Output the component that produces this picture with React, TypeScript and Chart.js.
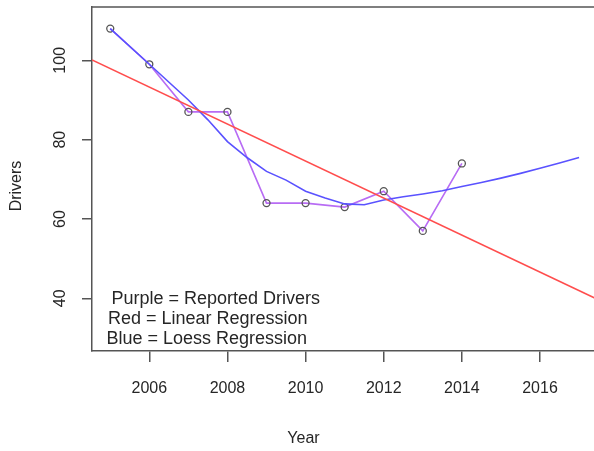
import React, { useEffect, useRef } from "react";
import Chart from "chart.js/auto";

const years = [2005, 2006, 2007, 2008, 2009, 2010, 2011, 2012, 2013, 2014];
const drivers = [108, 99, 87, 87, 64, 64, 63, 67, 57, 74];

const linearX = [2004.533, 2017.4];
const linearY = [100.1, 40.1];

const loessX = [2005, 2006, 2007, 2007.5, 2008, 2008.5, 2009, 2009.5, 2010, 2010.5, 2011, 2011.5, 2012, 2012.5, 2013, 2013.5, 2014, 2014.5, 2015, 2015.5, 2016, 2016.5, 2017];
const loessY = [108, 99, 90, 85, 79.5, 75.5, 72, 69.8, 67, 65.3, 63.8, 63.6, 64.8, 65.6, 66.3, 67.1, 68.2, 69.2, 70.3, 71.5, 72.8, 74.1, 75.5];

const xTicks = [2006, 2008, 2010, 2012, 2014, 2016];
const yTicks = [40, 60, 80, 100];

const legendLines = ["Purple = Reported Drivers", "Red = Linear Regression", "Blue = Loess Regression"];
const xTitle = "Year";
const yTitle = "Drivers";

const FONT = "'Liberation Sans', Arial, sans-serif";

export default function App() {
  const ref = useRef<HTMLCanvasElement | null>(null);

  useEffect(() => {
    if (!ref.current) return;
    const textPlugin = {
      id: "rtext",
      afterDraw(chart: any) {
        const ctx = chart.ctx;
        const xs = chart.scales.x;
        const ys = chart.scales.y;
        const area = chart.chartArea;
        ctx.save();
        ctx.strokeStyle = "#555";
        ctx.lineWidth = 1.5;
        ctx.beginPath();
        ctx.moveTo(area.left, area.top);
        ctx.lineTo(area.right, area.top);
        ctx.stroke();

        ctx.fillStyle = "#262626";
        ctx.textAlign = "center";
        ctx.textBaseline = "middle";
        ctx.font = `16px ${FONT}`;
        xTicks.forEach((v) => {
          ctx.fillText(String(v), xs.getPixelForValue(v), 389);
        });
        yTicks.forEach((v) => {
          ctx.save();
          ctx.translate(60.5, ys.getPixelForValue(v));
          ctx.rotate(-Math.PI / 2);
          ctx.fillText(String(v), 0, 0);
          ctx.restore();
        });
        ctx.fillText(xTitle, 303.5, 439);
        ctx.save();
        ctx.translate(17, 186);
        ctx.rotate(-Math.PI / 2);
        ctx.fillText(yTitle, 0, 0);
        ctx.restore();

        ctx.font = `18px ${FONT}`;
        ctx.textAlign = "left";
        const lx = [111.5, 108, 106.5];
        const ly = [299, 319.3, 339.3];
        legendLines.forEach((t, i) => ctx.fillText(t, lx[i], ly[i]));
        ctx.restore();
      },
    };

    const chart = new Chart(ref.current, {
      type: "scatter",
      data: {
        datasets: [
          {
            label: "Reported",
            data: years.map((x, i) => ({ x, y: drivers[i] })),
            showLine: true,
            borderColor: "#b86cf4",
            borderWidth: 1.6,
            pointRadius: 3.5,
            pointBorderColor: "#555",
            pointBackgroundColor: "rgba(0,0,0,0)",
            pointBorderWidth: 1.3,
            order: 3,
          },
          {
            label: "Loess",
            data: loessX.map((x, i) => ({ x, y: loessY[i] })),
            showLine: true,
            borderColor: "#5a52ff",
            borderWidth: 1.6,
            pointRadius: 0,
            order: 2,
          },
          {
            label: "Linear",
            data: linearX.map((x, i) => ({ x, y: linearY[i] })),
            showLine: true,
            borderColor: "#ff4d4d",
            borderWidth: 1.6,
            pointRadius: 0,
            order: 1,
          },
        ],
      },
      options: {
        animation: false,
        responsive: false,
        layout: { padding: { top: 7, right: 0, bottom: 0, left: 0 } },
        plugins: { legend: { display: false }, tooltip: { enabled: false } },
        scales: {
          x: {
            type: "linear",
            min: 2004.533,
            max: 2017.4,
            afterBuildTicks: (s: any) => {
              s.ticks = xTicks.map((v) => ({ value: v }));
            },
            afterFit: (s: any) => {
              s.height = 100;
            },
            ticks: { display: false },
            grid: { drawOnChartArea: false, drawTicks: true, tickLength: 11, color: "#555", tickColor: "#555", lineWidth: 1.5 },
            border: { display: true, color: "#555", width: 1.5 },
          },
          y: {
            type: "linear",
            min: 26.72,
            max: 113.44,
            afterBuildTicks: (s: any) => {
              s.ticks = yTicks.map((v) => ({ value: v }));
            },
            afterFit: (s: any) => {
              s.width = 92;
            },
            ticks: { display: false },
            grid: { drawOnChartArea: false, drawTicks: true, tickLength: 10, color: "#555", tickColor: "#555", lineWidth: 1.5 },
            border: { display: true, color: "#555", width: 1.5 },
          },
        },
      },
      plugins: [textPlugin],
    });
    return () => chart.destroy();
  }, []);

  return (
    <div style={{ position: "fixed", left: 0, top: 0, width: 594, height: 451, overflow: "hidden", background: "#fff" }}>
      <canvas ref={ref} width={600} height={451} style={{ width: 600, height: 451 }} />
    </div>
  );
}
